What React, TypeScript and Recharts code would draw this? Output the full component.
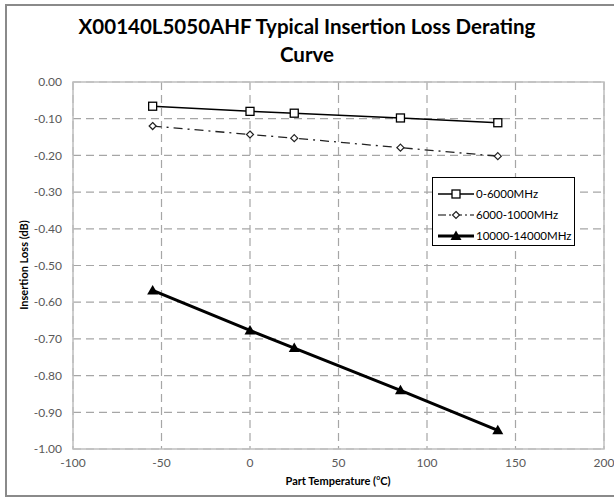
import React from "react";
import {
  LineChart,
  Line,
  XAxis,
  YAxis,
  CartesianGrid,
  ReferenceArea,
} from "recharts";

const temps = [-55, 0, 25, 85, 140];
const loss0to6000 = [-0.066, -0.08, -0.085, -0.098, -0.111];
const loss6000to1000 = [-0.12, -0.143, -0.153, -0.179, -0.202];
const loss10000to14000 = [-0.568, -0.677, -0.725, -0.84, -0.949];

const xTicks = [-100, -50, 0, 50, 100, 150, 200];
const yTicks = [0, -0.1, -0.2, -0.3, -0.4, -0.5, -0.6, -0.7, -0.8, -0.9, -1];

const seriesNames = ["0-6000MHz", "6000-1000MHz", "10000-14000MHz"];

const data = temps.map((t, i) => ({
  t,
  low: loss0to6000[i],
  mid: loss6000to1000[i],
  high: loss10000to14000[i],
}));

const FONT = "Lato, 'Open Sans', sans-serif";
const TICK = { fontSize: 12, fill: "#595959", fontFamily: FONT };

function SquareDot(props: any) {
  const { cx, cy } = props;
  if (cx == null || cy == null) return null;
  return (
    <rect x={cx - 4} y={cy - 4} width={8} height={8} fill="#fff" stroke="#000" strokeWidth={1.3} />
  );
}

function DiamondDot(props: any) {
  const { cx, cy } = props;
  if (cx == null || cy == null) return null;
  return (
    <polygon
      points={`${cx},${cy - 3.5} ${cx + 3.5},${cy} ${cx},${cy + 3.5} ${cx - 3.5},${cy}`}
      fill="#fff"
      stroke="#222"
      strokeWidth={1.2}
    />
  );
}

function TriangleDot(props: any) {
  const { cx, cy } = props;
  if (cx == null || cy == null) return null;
  return <polygon points={`${cx},${cy - 5.5} ${cx + 5.5},${cy + 4} ${cx - 5.5},${cy + 4}`} fill="#000" />;
}

function LegendBox() {
  const rows = [
    { dash: undefined, width: 1.5, marker: <SquareDot cx={18} cy={6} /> },
    { dash: "8 3 2 3", width: 1.2, marker: <DiamondDot cx={18} cy={6} /> },
    { dash: undefined, width: 3, marker: <TriangleDot cx={18} cy={6} /> },
  ];
  return (
    <div
      style={{
        position: "absolute",
        left: 432,
        top: 177,
        width: 143,
        height: 69,
        border: "1px solid #000",
        background: "#fff",
        boxSizing: "border-box",
        padding: "5px 0 0 5px",
        fontFamily: FONT,
        fontSize: 11.5,
      }}
    >
      {rows.map((r, i) => (
        <div key={seriesNames[i]} style={{ display: "flex", alignItems: "center", height: 21 }}>
          <svg width={36} height={12}>
            <line x1={0} y1={6} x2={36} y2={6} stroke="#000" strokeWidth={r.width} strokeDasharray={r.dash} />
            {r.marker}
          </svg>
          <span style={{ marginLeft: 2 }}>{seriesNames[i]}</span>
        </div>
      ))}
    </div>
  );
}

export default function App() {
  return (
    <div style={{ position: "absolute", left: 0, top: 0, width: 614, height: 498, background: "#fff", overflow: "hidden" }}>
      {/* outer frame runs off the right edge in the reference */}
      <div
        style={{
          position: "absolute",
          left: 5,
          top: 4,
          width: 620,
          height: 493,
          border: "2px solid #8a8a8a",
          boxSizing: "border-box",
        }}
      />
      <div
        style={{
          position: "absolute",
          left: 0,
          top: 12,
          width: 614,
          textAlign: "center",
          fontFamily: FONT,
          fontWeight: 700,
          fontSize: 20.5,
          lineHeight: "28px",
          color: "#000",
        }}
      >
        X00140L5050AHF Typical Insertion Loss Derating
        <br />
        Curve
      </div>
      <LineChart
        width={614}
        height={498}
        data={data}
        margin={{ top: 82, right: 10, bottom: 0, left: 0 }}
      >
        <CartesianGrid stroke="#a6a6a6" strokeDasharray="8 5" strokeWidth={1.2} />
        <ReferenceArea x1={-100} x2={200} y1={-1} y2={0} fill="none" stroke="#bfbfbf" strokeWidth={1.5} />
        <XAxis
          dataKey="t"
          type="number"
          domain={[-100, 200]}
          ticks={xTicks}
          height={49}
          axisLine={false}
          tickLine={false}
          tickSize={0}
          tickMargin={9}
          tick={TICK}
        />
        <YAxis
          type="number"
          domain={[-1, 0]}
          ticks={yTicks}
          width={73}
          axisLine={false}
          tickLine={false}
          tickSize={0}
          tickMargin={11}
          tick={TICK}
          tickFormatter={(v: number) => v.toFixed(2)}
        />
        <Line dataKey="low" stroke="#000" strokeWidth={1.5} dot={<SquareDot />} isAnimationActive={false} />
        <Line
          dataKey="mid"
          stroke="#222"
          strokeWidth={1.3}
          strokeDasharray="9 5 2 5"
          dot={<DiamondDot />}
          isAnimationActive={false}
        />
        <Line dataKey="high" stroke="#000" strokeWidth={3} dot={<TriangleDot />} isAnimationActive={false} />
      </LineChart>
      <LegendBox />
      <div
        style={{
          position: "absolute",
          left: 0,
          top: 473,
          width: 676,
          textAlign: "center",
          fontFamily: FONT,
          fontWeight: 700,
          fontSize: 11,
        }}
      >
        Part Temperature (<sup style={{ fontSize: 7 }}>o</sup>C)
      </div>
      <div
        style={{
          position: "absolute",
          left: 23,
          top: 265,
          transform: "translate(-50%, -50%) rotate(-90deg)",
          whiteSpace: "nowrap",
          fontFamily: FONT,
          fontWeight: 700,
          fontSize: 11,
        }}
      >
        Insertion Loss (dB)
      </div>
    </div>
  );
}
